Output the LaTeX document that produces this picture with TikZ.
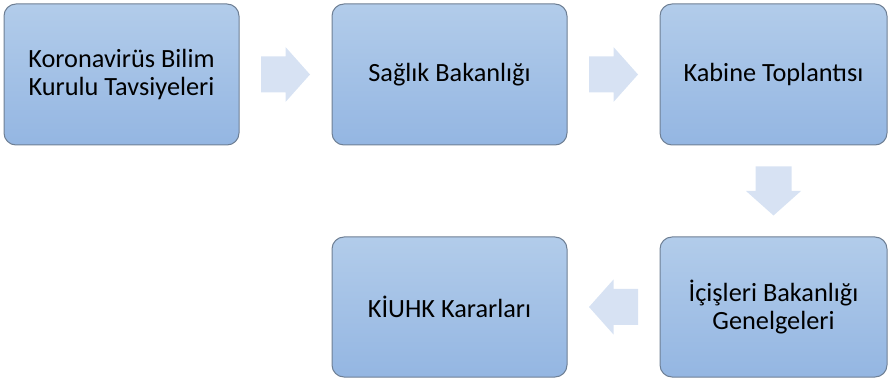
\documentclass[tikz,border=0pt]{standalone}
\usepackage{fontspec}
\setmainfont{Carlito}
\usetikzlibrary{calc}
\definecolor{boxtop}{HTML}{B2CCEA}
\definecolor{boxbottom}{HTML}{94B6E2}
\definecolor{boxline}{HTML}{6E7F94}
\definecolor{arrowfill}{HTML}{D7E2F3}
\newcommand{\flowarrow}[2]{%
  \fill[arrowdecorate,shift={(#1)},rotate=#2]
    (-24.5,-18) -- (0,-18) -- (0,-27.5) -- (24.5,0) -- (0,27.5) -- (0,18) -- (-24.5,18) -- cycle;}
\begin{document}
\begin{tikzpicture}
[x=1pt,y=1pt,
  boxdecorate/.style={shape=rectangle,rounded corners=12pt,draw=boxline,line width=1pt,
    top color=boxtop,bottom color=boxbottom,align=center,font=\fontsize{26.3}{28.5}\selectfont,
    inner sep=0pt},%
  arrowdecorate/.style={fill=arrowfill}]
\useasboundingbox (0,0) rectangle (888,380);
% boxes
\node (bilim) at (121.5,305.5) [boxdecorate,minimum width=235pt,minimum height=141pt] {Koronavirüs Bilim\\Kurulu Tavsiyeleri};
\node (saglik) at (449.5,305.5) [boxdecorate,minimum width=235pt,minimum height=141pt] {Sağlık Bakanlığı};
\node (kabine) at (773.5,305.5) [boxdecorate,minimum width=227pt,minimum height=141pt] {Kabine Toplantısı};
\node (icisleri) at (773.5,73) [boxdecorate,minimum width=227pt,minimum height=140pt] {İçişleri Bakanlığı\\Genelgeleri};
\node (kiuhk) at (449.5,73) [boxdecorate,minimum width=235pt,minimum height=140pt] {KİUHK Kararları};
% arrows between boxes
\coordinate (a1) at ($(bilim.east)!0.5!(saglik.west)$);
\coordinate (a2) at ($(saglik.east)!0.5!(kabine.west)$);
\coordinate (a3) at ($(kabine.south)!0.5!(icisleri.north)$);
\coordinate (a4) at ($(icisleri.west)!0.5!(kiuhk.east)$);
\flowarrow{a1}{0}
\flowarrow{a2}{0}
\flowarrow{a3}{-90}
\flowarrow{a4}{180}
\end{tikzpicture}
\end{document}
